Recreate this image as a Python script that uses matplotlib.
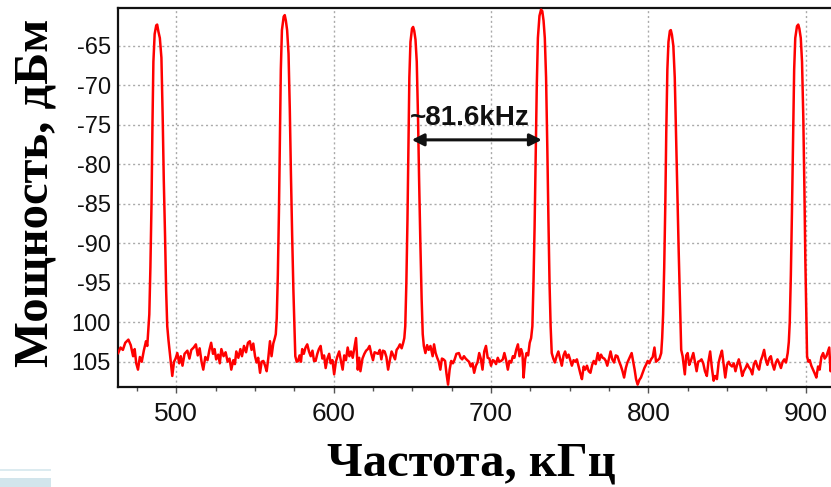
import matplotlib
matplotlib.use("Agg")
import matplotlib.pyplot as plt
from matplotlib.patches import Rectangle
from matplotlib.ticker import MultipleLocator

# ---------------- data ----------------
floor_0 = [(463.0, -103.9), (464.5, -103.2), (466.0, -103.5), (467.5, -102.6), (469.5, -102.2),
           (471.0, -102.9), (472.5, -104.3), (473.5, -103.4), (474.5, -105.2), (475.6, -106.0),
           (476.8, -104.4), (478.0, -105.0), (479.3, -103.6), (480.7, -102.4), (481.5, -103.0)]
peak_1 = [(482.0, -101.5), (482.8, -99.0), (483.5, -93.0), (484.2, -85.0), (484.8, -75.0),
          (485.4, -67.0), (486.2, -63.5), (487.2, -62.4), (487.8, -62.3), (488.6, -63.2),
          (489.5, -64.0), (490.5, -66.5), (491.3, -74.0), (492.0, -82.0), (492.8, -89.0),
          (493.5, -96.0), (494.2, -100.5), (495.0, -102.3)]
floor_1 = [(496.2, -104.5), (497.4, -106.8), (498.5, -105.0), (499.5, -104.6), (500.6, -103.9),
           (501.8, -105.2), (502.8, -104.3), (503.9, -105.5), (505.2, -104.0), (507.0, -103.6),
           (508.3, -104.6), (509.5, -103.5), (511.0, -103.2), (512.4, -102.8), (513.6, -104.2),
           (514.8, -103.3), (516.0, -105.0), (517.1, -106.0), (518.4, -104.4), (519.8, -104.8),
           (521.0, -103.5), (522.1, -102.6), (523.3, -104.0), (524.3, -103.4), (525.3, -104.7),
           (526.6, -104.1), (527.6, -105.2), (528.6, -103.4), (530.0, -104.3), (531.3, -103.8),
           (532.6, -105.0), (533.8, -104.6), (534.9, -106.0), (536.2, -104.8), (537.2, -105.3),
           (538.1, -103.7), (539.4, -104.5), (540.7, -103.4), (541.7, -104.3), (543.0, -103.0),
           (544.3, -103.8), (545.5, -102.6), (546.7, -102.4), (547.8, -103.5), (548.9, -102.7),
           (550.0, -104.3), (551.0, -105.1), (552.0, -104.5), (553.2, -106.4), (554.2, -105.0),
           (555.3, -104.9), (556.4, -105.5), (557.4, -106.2), (558.4, -104.6), (559.5, -102.4),
           (560.5, -104.3), (561.6, -102.7), (562.6, -102.0), (563.2, -101.5)]
peak_2 = [(563.8, -99.5), (564.5, -94.0), (565.2, -86.0), (565.8, -77.0), (566.4, -68.0),
          (567.1, -63.0), (568.2, -61.3), (568.9, -61.1), (569.6, -61.8), (570.4, -63.0),
          (571.3, -66.0), (572.1, -73.0), (572.8, -81.0), (573.6, -89.0), (574.4, -96.0),
          (575.1, -101.0), (575.6, -104.3)]
floor_2 = [(576.5, -105.0), (577.4, -104.9), (578.3, -104.2), (579.2, -105.0), (580.0, -103.4),
           (581.0, -104.0), (582.1, -103.2), (583.2, -102.8), (584.3, -103.7), (585.4, -104.3),
           (586.5, -103.6), (587.5, -104.9), (588.5, -104.9), (589.6, -104.0), (590.6, -103.4),
           (591.7, -103.0), (592.8, -104.6), (593.9, -104.2), (594.9, -105.8), (596.0, -104.6),
           (597.1, -104.0), (598.1, -105.2), (599.2, -104.8), (600.3, -106.6), (601.4, -105.0),
           (602.4, -104.3), (603.5, -103.7), (604.6, -104.9), (605.7, -106.0), (606.7, -104.2),
           (607.8, -104.8), (608.9, -103.2), (610.0, -104.3), (611.0, -103.7), (612.1, -104.5),
           (613.2, -103.2), (614.2, -102.0), (615.3, -106.0), (616.2, -104.5), (617.0, -106.2),
           (618.3, -104.6), (619.5, -104.0), (620.6, -103.6), (621.7, -103.4), (622.8, -103.0),
           (623.9, -104.0), (625.0, -104.8), (626.0, -103.8), (627.1, -103.9), (628.2, -104.0),
           (629.3, -103.5), (630.3, -104.7), (631.3, -103.6), (632.4, -103.7), (633.5, -104.4),
           (634.6, -106.0), (635.7, -104.8), (636.8, -103.7), (637.9, -104.2), (639.0, -104.7),
           (640.0, -103.5), (641.1, -103.2), (642.1, -102.8), (643.2, -103.3), (644.2, -102.6),
           (644.9, -102.0)]
peak_3 = [(645.5, -100.5), (646.2, -95.0), (646.9, -87.0), (647.5, -78.0), (648.1, -69.0),
          (648.8, -64.5), (649.8, -62.8), (650.5, -62.6), (651.2, -63.1), (652.0, -64.2),
          (652.8, -67.0), (653.6, -74.0), (654.3, -82.0), (655.1, -90.0), (655.9, -97.0),
          (656.6, -101.5), (657.3, -103.0)]
floor_3 = [(658.3, -103.9), (659.4, -102.9), (660.4, -103.5), (661.5, -103.0), (662.9, -104.3),
           (663.8, -102.8), (664.8, -103.9), (665.8, -104.5), (666.8, -105.0), (667.8, -106.0),
           (668.8, -104.6), (669.8, -104.7), (670.8, -104.9), (671.7, -106.5), (672.7, -107.9),
           (673.7, -106.0), (674.7, -104.9), (675.8, -105.2), (676.9, -104.7), (678.0, -104.0),
           (679.6, -103.9), (680.7, -104.5), (681.7, -104.7), (682.8, -104.3), (683.9, -104.6),
           (684.9, -104.8), (686.0, -105.0), (687.1, -105.6), (688.2, -105.2), (689.3, -106.4),
           (690.4, -105.5), (691.4, -105.1), (692.5, -103.9), (693.5, -104.6), (694.6, -106.0),
           (695.7, -103.7), (696.8, -103.0), (697.9, -104.5), (699.0, -104.6), (700.0, -105.5),
           (701.1, -104.8), (702.1, -104.9), (703.2, -105.3), (704.3, -104.5), (705.3, -105.0),
           (706.4, -104.9), (707.5, -104.7), (708.5, -103.9), (709.6, -104.8), (710.7, -106.0),
           (711.7, -104.9), (712.8, -105.1), (713.9, -104.3), (714.9, -104.5), (716.0, -103.5),
           (717.1, -102.8), (718.1, -104.3), (719.1, -103.4), (720.0, -104.0), (720.7, -107.0),
           (721.7, -104.7), (722.6, -103.9), (723.6, -104.2), (724.6, -102.6), (725.5, -102.0)]
peak_4 = [(726.3, -100.5), (727.0, -95.0), (727.7, -88.0), (728.4, -79.0), (729.1, -70.0),
          (729.8, -64.0), (730.8, -61.2), (731.8, -60.4), (732.6, -60.6), (733.4, -61.8),
          (734.2, -64.0), (735.0, -69.0), (735.8, -78.0), (736.5, -87.0), (737.2, -95.0),
          (737.9, -100.5), (738.6, -103.9)]
floor_4 = [(739.6, -104.6), (740.6, -105.1), (741.7, -104.3), (742.8, -103.7), (743.9, -104.6),
           (745.0, -105.5), (746.1, -104.2), (747.1, -103.7), (748.2, -104.5), (749.3, -104.1),
           (750.4, -104.8), (751.4, -105.5), (752.5, -104.8), (753.6, -105.0), (754.6, -104.7),
           (755.7, -105.6), (756.8, -106.5), (757.8, -107.2), (758.9, -105.6), (759.9, -106.0),
           (761.0, -105.5), (762.1, -106.2), (763.2, -106.4), (764.3, -105.4), (765.3, -104.9),
           (766.5, -105.3), (767.9, -103.9), (768.9, -104.8), (769.9, -104.1), (771.0, -104.5),
           (772.0, -104.6), (773.0, -104.9), (773.9, -105.5), (775.0, -104.6), (776.0, -103.7),
           (777.1, -104.7), (778.2, -105.1), (779.3, -104.2), (780.4, -104.3), (781.5, -105.0),
           (782.5, -105.5), (783.6, -106.2), (784.6, -107.0), (785.7, -105.8), (786.7, -105.1),
           (787.8, -104.6), (789.4, -103.9), (790.4, -105.0), (791.3, -106.0), (792.2, -107.2),
           (793.2, -107.9), (794.3, -107.3), (795.3, -107.0), (796.4, -106.4), (797.5, -105.8),
           (798.5, -105.4), (799.6, -104.9), (800.6, -105.2), (801.7, -104.7), (802.8, -104.4),
           (803.9, -103.2), (804.9, -105.0), (806.0, -104.8), (807.1, -104.6), (808.2, -103.9),
           (808.8, -102.0)]
peak_5 = [(809.4, -99.0), (810.1, -93.0), (810.8, -85.0), (811.4, -76.0), (812.1, -68.0),
          (812.8, -64.5), (813.7, -63.1), (814.3, -63.0), (815.0, -63.6), (815.9, -65.0),
          (816.8, -69.0), (817.6, -76.0), (818.5, -84.0), (819.3, -91.0), (820.1, -97.0),
          (820.9, -103.5)]
floor_5 = [(821.8, -104.3), (823.2, -106.6), (824.1, -104.2), (825.0, -103.9), (826.0, -105.4),
           (827.0, -104.9), (828.6, -103.9), (829.6, -105.0), (830.7, -106.2), (831.7, -105.0),
           (832.8, -104.9), (833.8, -104.7), (834.9, -105.2), (836.0, -106.2), (837.2, -106.8),
           (838.2, -105.0), (839.3, -103.7), (840.4, -105.8), (841.5, -107.4), (842.5, -106.8),
           (843.6, -107.2), (844.7, -105.1), (845.7, -104.3), (846.8, -103.6), (847.8, -105.2),
           (848.9, -107.0), (850.0, -105.4), (851.1, -105.0), (852.1, -105.4), (853.2, -105.6),
           (854.3, -105.2), (855.4, -106.2), (856.4, -105.4), (857.5, -104.7), (858.6, -105.6),
           (859.7, -106.8), (860.7, -106.2), (861.8, -105.8), (862.9, -105.3), (863.9, -105.7),
           (865.0, -106.0), (866.1, -106.6), (867.1, -105.3), (868.2, -104.9), (869.3, -105.6),
           (870.4, -106.0), (871.4, -104.9), (872.5, -104.3), (873.6, -103.5), (874.6, -104.7),
           (875.7, -105.4), (876.8, -104.6), (877.9, -104.3), (878.9, -105.3), (880.0, -106.0),
           (881.1, -105.1), (882.1, -104.7), (883.2, -105.2), (884.3, -105.8), (885.4, -105.0),
           (886.4, -104.7), (887.5, -105.1), (888.6, -103.9), (889.3, -102.5)]
peak_6 = [(889.9, -100.0), (890.6, -94.0), (891.3, -86.0), (892.0, -77.0), (892.7, -68.0),
          (893.4, -64.0), (894.5, -62.5), (895.3, -62.3), (896.0, -62.8), (896.9, -64.0),
          (897.7, -67.0), (898.5, -74.0), (899.2, -83.0), (899.8, -92.0), (900.4, -99.0),
          (900.9, -104.3)]
floor_6 = [(901.7, -105.0), (902.6, -104.8), (903.6, -105.5), (904.7, -106.0), (905.8, -106.5),
           (906.8, -107.0), (907.9, -105.6), (908.9, -106.0), (910.0, -104.4), (911.1, -103.9),
           (912.1, -104.6), (913.2, -104.3), (914.2, -103.7), (915.0, -103.2), (915.8, -106.2),
           (916.8, -105.0), (917.9, -104.9), (918.9, -104.3), (920.0, -104.0), (921.0, -103.9),
           (922.0, -104.2)]

segments = [floor_0, peak_1, floor_1, peak_2, floor_2, peak_3, floor_3,
            peak_4, floor_4, peak_5, floor_5, peak_6, floor_6]

x_ticks = [500, 600, 700, 800, 900]
y_ticks = [-65, -70, -75, -80, -85, -90, -95, -100, -105]
y_tick_labels = ["-65", "-70", "-75", "-80", "-85", "-90", "-95", "100", "105"]

arrow_from_khz = 649.6   # peak 3
arrow_to_khz = 732.3     # peak 4
arrow_level = -76.9
label_khz = 686.3
label_level = -74.1
spacing_label = "~81.6kHz"
xlabel_text = "Частота, кГц"
ylabel_text = "Мощность, дБм"

# ---------------- figure ----------------
freq = [p[0] for seg in segments for p in seg]
power = [p[1] for seg in segments for p in seg]

fig = plt.figure(figsize=(8.31, 4.87), dpi=100)
ax = fig.add_axes([118 / 831, 1 - 387 / 487, 1 - 118 / 831 + 0.01, (387 - 8) / 487])

ax.plot(freq, power, color="#ff0000", lw=1.8, solid_joinstyle="round", zorder=3)

ax.set_xlim(462.9, 921.4)
ax.set_ylim(-108.2, -60.2)
ax.set_xticks(x_ticks)
ax.xaxis.set_minor_locator(MultipleLocator(25))
ax.set_yticks(y_ticks)
ax.set_yticklabels(y_tick_labels)

for lbl in ax.get_xticklabels():
    lbl.set_fontfamily("Liberation Sans")
    lbl.set_fontsize(19)
for lbl in ax.get_yticklabels():
    lbl.set_fontfamily("Liberation Sans")
    lbl.set_fontsize(17)

ax.tick_params(axis="x", which="major", length=4, width=1, color="#555555", pad=7, labelcolor="#111111")
ax.tick_params(axis="x", which="minor", length=3, width=1, color="#555555")
ax.tick_params(axis="y", which="major", length=0, pad=5, labelcolor="#111111")

ax.grid(True, which="major", color="#aaaaaa", linestyle=(0, (1.5, 2)), linewidth=1.0, zorder=0)

for side in ["left", "bottom", "top"]:
    ax.spines[side].set_linewidth(1.6)
    ax.spines[side].set_color("#111111")
ax.spines["right"].set_visible(False)

ax.annotate("", xy=(arrow_to_khz, arrow_level), xytext=(arrow_from_khz, arrow_level),
            arrowprops=dict(arrowstyle="<|-|>", color="#111111", lw=2.2,
                            mutation_scale=18, shrinkA=0, shrinkB=0), zorder=4)
ax.text(label_khz, label_level, spacing_label, ha="center", va="center",
        fontsize=20, fontweight="bold", family="Liberation Sans", color="#111111", zorder=4)

fig.text(471 / 831, 1 - 463 / 487, xlabel_text, ha="center", va="center",
         fontsize=35, fontweight="bold", family="Liberation Serif", color="black")
fig.text(36 / 831, 1 - 193 / 487, ylabel_text, ha="center", va="center", rotation=90,
         fontsize=35, fontweight="bold", family="Liberation Serif", color="black")

# light decorative strip in the lower-left corner
fig.patches.append(Rectangle((0, 1 - 471 / 487), 51 / 831, 2 / 487, transform=fig.transFigure,
                             facecolor="#dcebf0", edgecolor="none"))
fig.patches.append(Rectangle((0, 0), 51 / 831, 9 / 487, transform=fig.transFigure,
                             facecolor="#d2e5ec", edgecolor="none"))

fig.savefig("out.png", dpi=100)
